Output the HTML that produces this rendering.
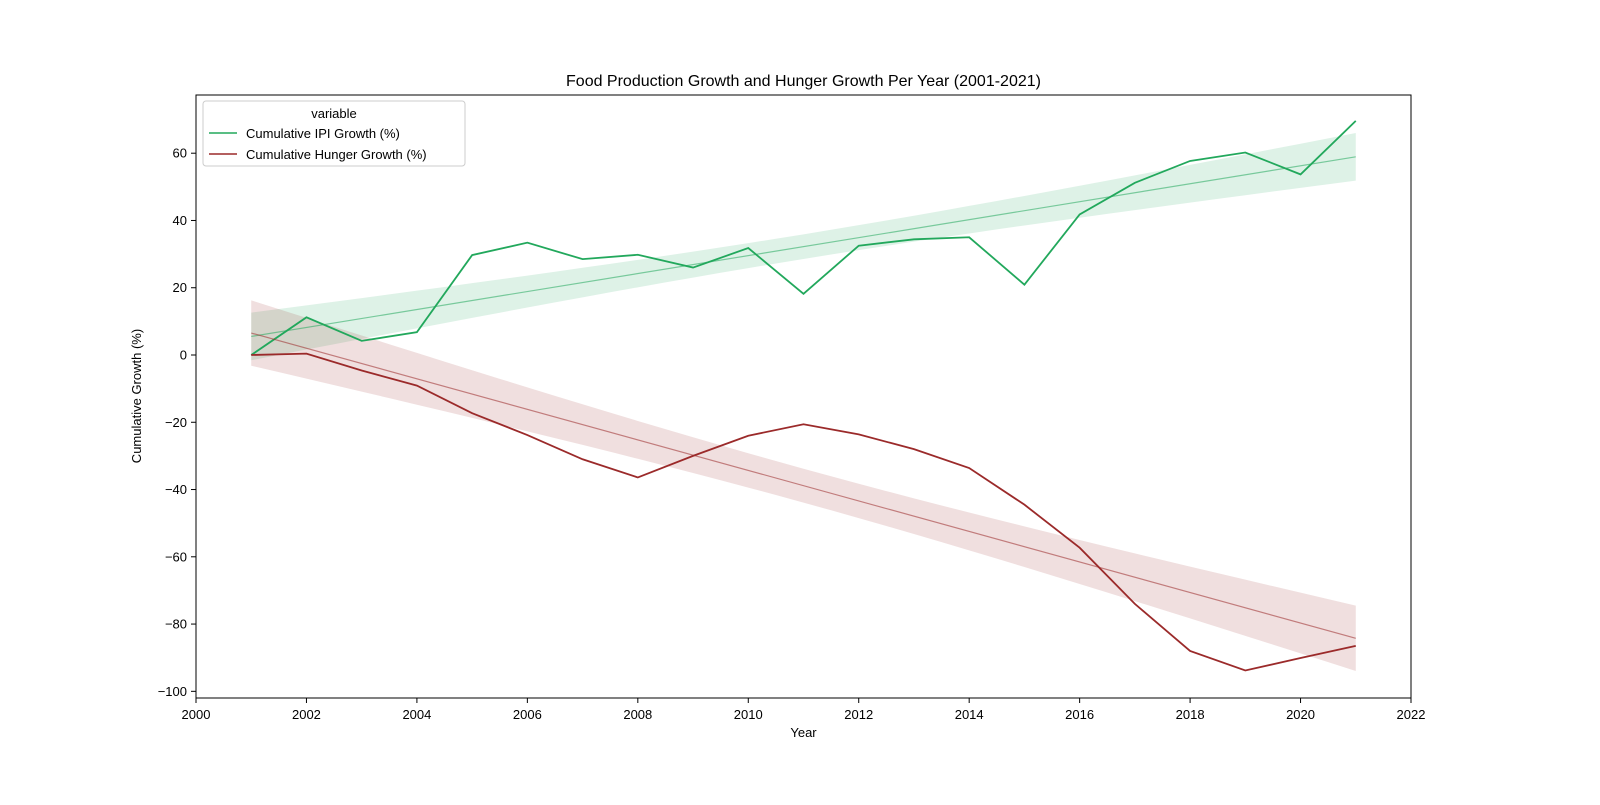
<!DOCTYPE html>
<html><head><meta charset="utf-8">
<style>
body{margin:0;background:#fff;font-family:"Liberation Sans","DejaVu Sans",sans-serif;}
svg text{font-family:"Liberation Sans","DejaVu Sans",sans-serif;}
</style></head>
<body>
<svg id="chart" width="1600" height="800" xmlns="http://www.w3.org/2000/svg">
<rect width="1600" height="800" fill="#fff"/>
<text x="803.5" y="86" font-size="16" text-anchor="middle">Food Production Growth and Hunger Growth Per Year (2001-2021)</text>
<g id="bands"></g><g id="lines"></g>
<rect x="196" y="95" width="1215" height="603" fill="none" stroke="#000" stroke-width="1"/>
<g id="axes"></g>
<text x="803.5" y="737" font-size="13" text-anchor="middle">Year</text>
<text transform="translate(141,396) rotate(-90)" font-size="13" text-anchor="middle">Cumulative Growth (%)</text>
<g>
<rect x="203" y="101" width="262" height="65" rx="3" fill="#fff" fill-opacity="0.8" stroke="#ccc"/>
<text x="334" y="118" font-size="13" text-anchor="middle">variable</text>
<line x1="209" y1="133" x2="237" y2="133" stroke="#22a85c" stroke-width="1.6"/>
<text x="246" y="138" font-size="13">Cumulative IPI Growth (%)</text>
<line x1="209" y1="154" x2="237" y2="154" stroke="#9b2a2a" stroke-width="1.6"/>
<text x="246" y="159" font-size="13">Cumulative Hunger Growth (%)</text>
</g>
</svg>
<script>
const years=[2001,2002,2003,2004,2005,2006,2007,2008,2009,2010,2011,2012,2013,2014,2015,2016,2017,2018,2019,2020,2021];
const ipiGrowth=[0,11.2,4.2,6.8,29.7,33.4,28.5,29.8,26.0,31.8,18.2,32.5,34.4,35.0,20.9,41.8,51.2,57.7,60.2,53.7,69.6];
const hungerGrowth=[0,0.4,-4.6,-9.1,-17.3,-23.8,-31.0,-36.4,-30.0,-24.0,-20.6,-23.6,-28.0,-33.6,-44.5,-57.3,-74.0,-88.0,-93.8,-90.1,-86.5];
const xTicks=[2000,2002,2004,2006,2008,2010,2012,2014,2016,2018,2020,2022];
const yTicks=[-100,-80,-60,-40,-20,0,20,40,60];
const NS="http://www.w3.org/2000/svg";
const X=v=>196+(v-2000)*1215/22;
const Y=v=>355-v*3.3633;
function mk(tag,attrs,parent){const e=document.createElementNS(NS,tag);for(const k in attrs)e.setAttribute(k,attrs[k]);parent.appendChild(e);return e;}
const axes=document.getElementById('axes');
xTicks.forEach(t=>{
  const l=mk('line',{x1:X(t),x2:X(t),y1:698,y2:703,stroke:'#000'},axes);
  
  
  const tx=mk('text',{x:X(t),y:719,'font-size':13,'text-anchor':'middle'},axes);tx.textContent=t;
  
  
});
yTicks.forEach(t=>{
  const l=mk('line',{x1:191,x2:196,y1:Y(t),y2:Y(t),stroke:'#000'},axes);
  
  
  const tx=mk('text',{x:187,y:Y(t)+4.5,'font-size':13,'text-anchor':'end'},axes);tx.textContent=t<0?'\u2212'+(-t):t;
  
  
});
function draw(vals,color,name){
  const n=years.length,xm=years.reduce((a,b)=>a+b)/n,ym=vals.reduce((a,b)=>a+b)/n;
  let sxx=0,sxy=0;years.forEach((x,i)=>{sxx+=(x-xm)**2;sxy+=(x-xm)*(vals[i]-ym);});
  const b=sxy/sxx,a=ym-b*xm;
  let sse=0;years.forEach((x,i)=>{sse+=(vals[i]-a-b*x)**2;});
  const s=Math.sqrt(sse/(n-2)),t=1.85;
  const up=[],lo=[];
  for(let k=0;k<=40;k++){const x=2001+k*0.5;const f=a+b*x;const c=t*s*Math.sqrt(1/n+(x-xm)**2/sxx);up.push(X(x)+','+Y(f+c));lo.unshift(X(x)+','+Y(f-c));}
  const band=mk('polygon',{points:up.concat(lo).join(' '),fill:color,'fill-opacity':0.15,stroke:'none'},document.getElementById('bands'));
  
  
  const reg=mk('line',{x1:X(2001),y1:Y(a+b*2001),x2:X(2021),y2:Y(a+b*2021),stroke:color,'stroke-opacity':0.55,'stroke-width':1.2},document.getElementById('lines'));
  
  
  const ln=mk('polyline',{points:years.map((x,i)=>X(x)+','+Y(vals[i])).join(' '),fill:'none',stroke:color,'stroke-width':1.8},document.getElementById('lines'));
  
  
}
draw(ipiGrowth,'#22a85c','ipi');
draw(hungerGrowth,'#9b2a2a','hunger');
</script>
</body></html>
